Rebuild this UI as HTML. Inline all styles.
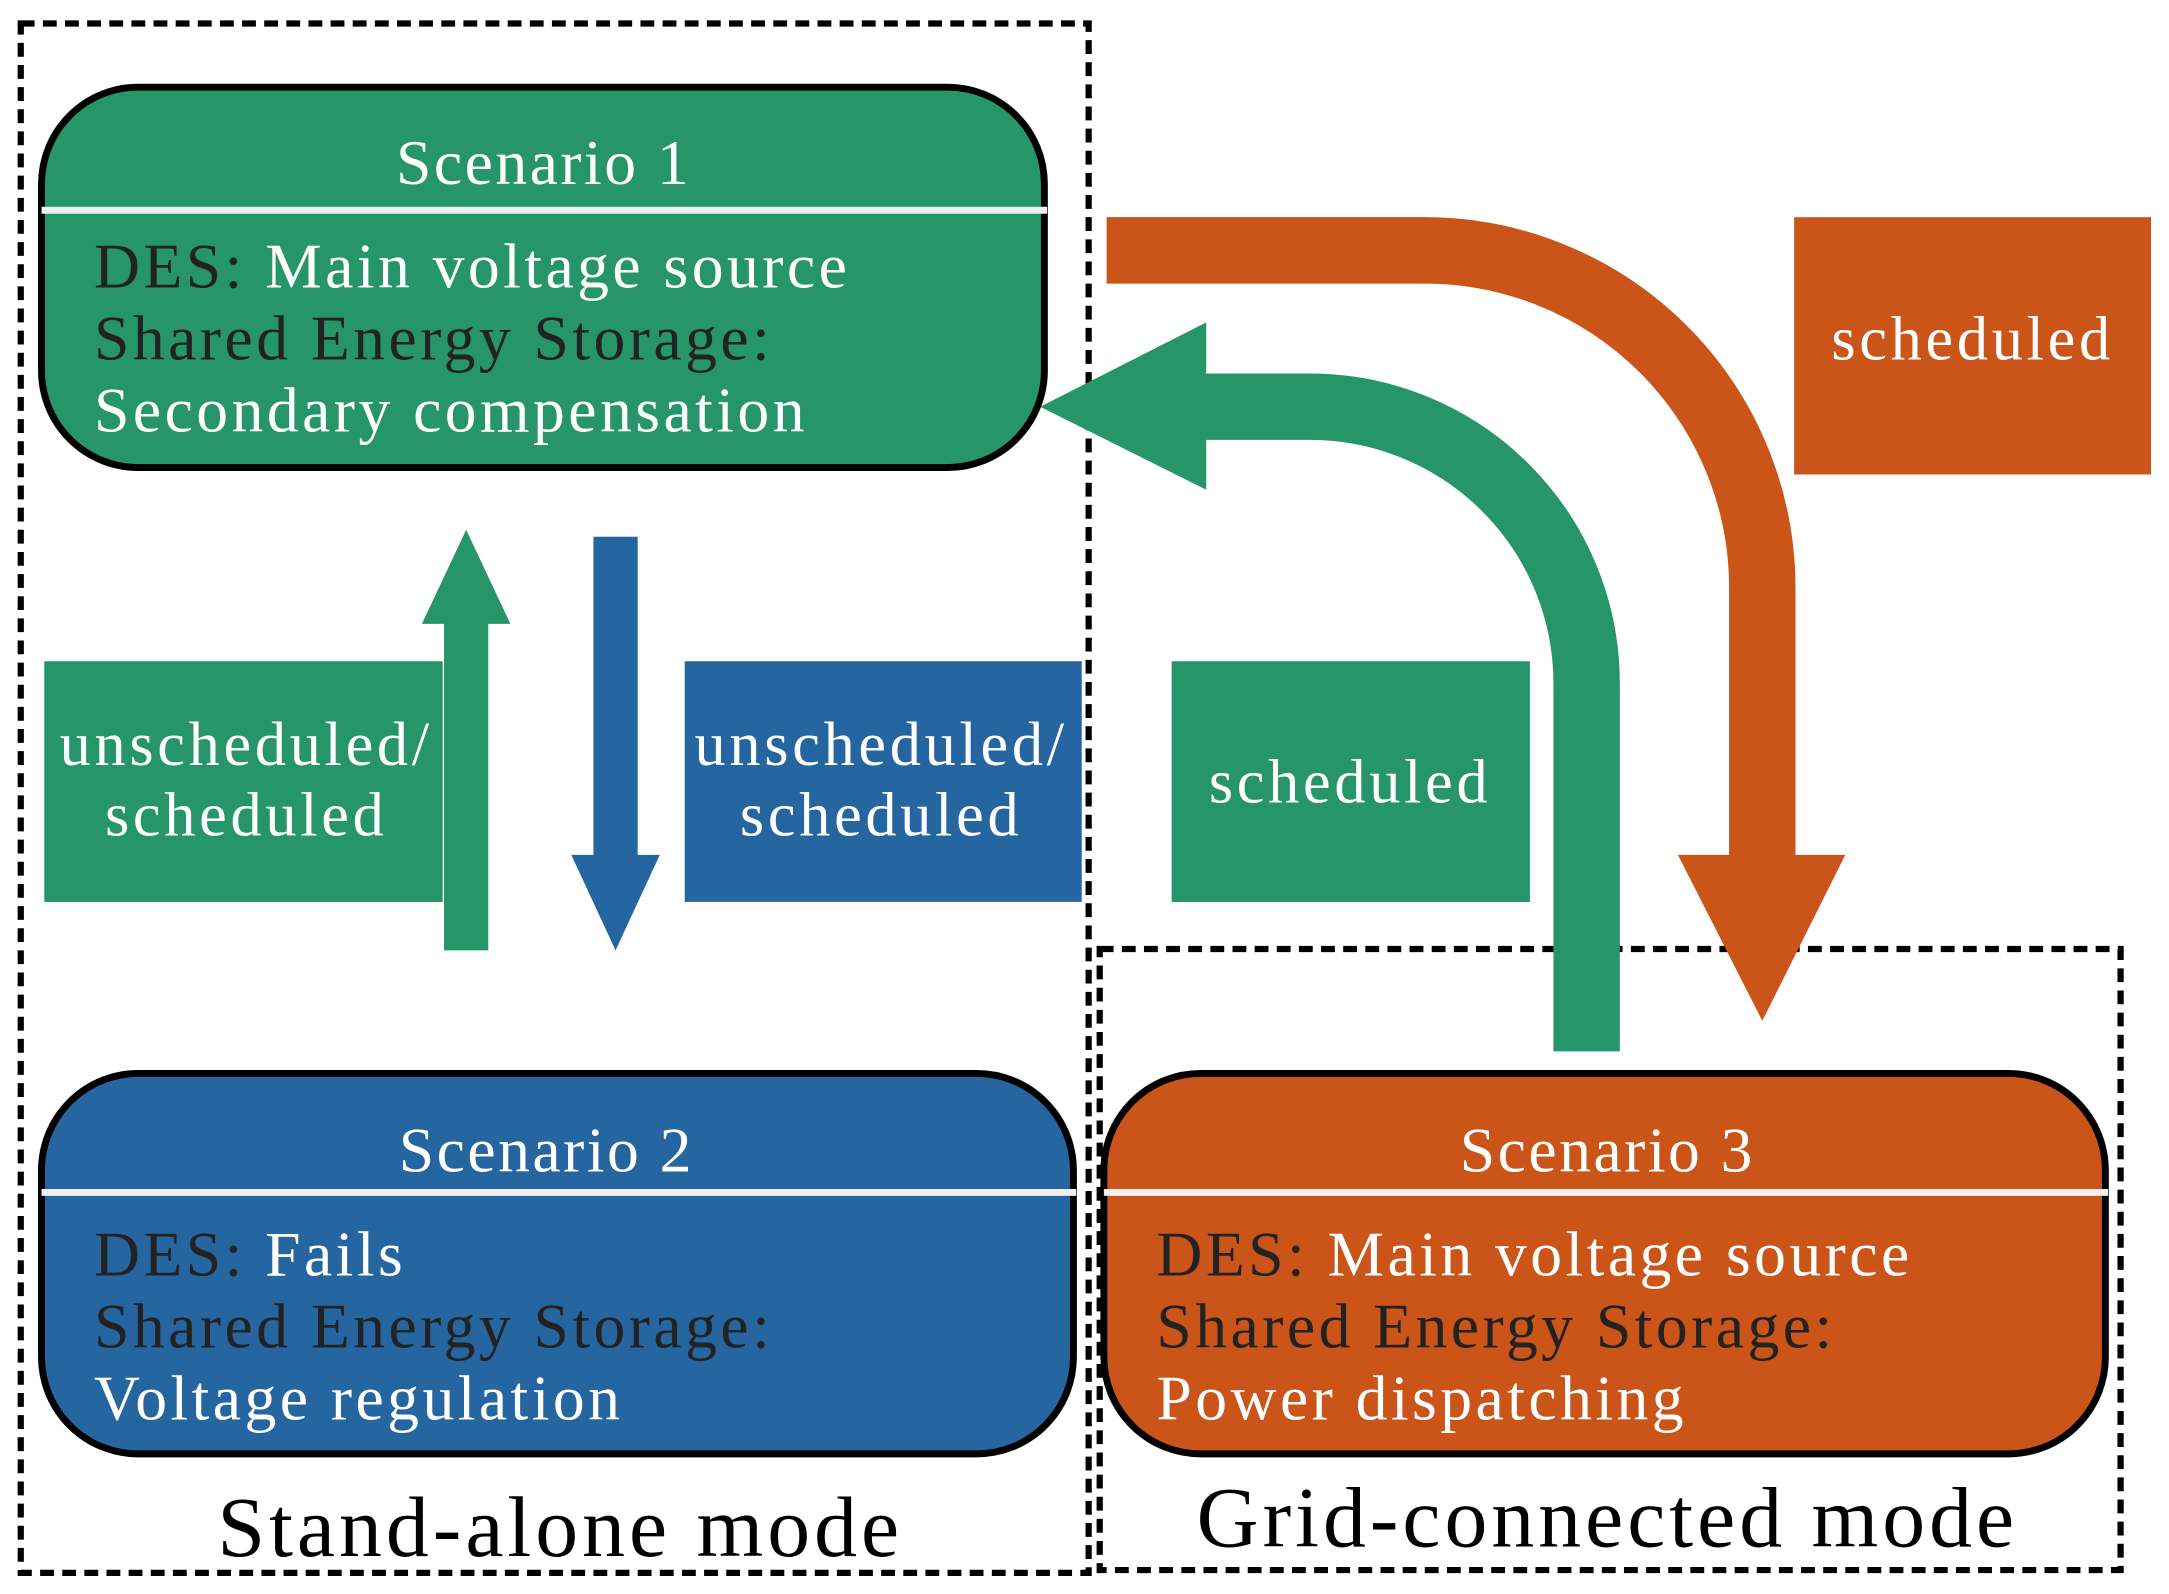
<!DOCTYPE html>
<html><head><meta charset="utf-8"><style>
html,body{margin:0;padding:0;background:#fff;}
svg{display:block;}
text{font-family:"Liberation Serif",serif;}
.b{letter-spacing:2.5px;}
.l{letter-spacing:2.7px;}
.t{letter-spacing:1.8px;}
.m{letter-spacing:2.9px;}
</style></head><body>
<svg width="2169" height="1594" viewBox="0 0 1568 1152.3" preserveAspectRatio="none" xmlns="http://www.w3.org/2000/svg">
<rect x="15" y="17" width="772" height="1120" fill="none" stroke="#000" stroke-width="4.5" stroke-dasharray="10,6"/>
<rect x="795" y="686" width="738" height="449" fill="none" stroke="#000" stroke-width="4.5" stroke-dasharray="10,6"/>

<path d="M800,181 L1030,181 A244,244 0 0 1 1274,425 L1274,620" fill="none" stroke="#cb5518" stroke-width="48"/>
<polygon points="1213,618 1334,618 1274,738" fill="#cb5518"/>
<path d="M1147,760 L1147,494 A200,200 0 0 0 947,294 L870,294" fill="none" stroke="#27956a" stroke-width="48"/>
<polygon points="872,233 872,354 752,294" fill="#27956a"/>

<rect x="321" y="448" width="32" height="239" fill="#27956a"/>
<polygon points="305,451 369,451 337,383" fill="#27956a"/>
<rect x="429" y="388" width="32" height="232" fill="#2566a0"/>
<polygon points="413,618 477,618 445,687" fill="#2566a0"/>

<rect x="32" y="478" width="288" height="174" fill="#27956a"/>
<text class="l" x="178" y="553" font-size="45" fill="#fff" text-anchor="middle">unscheduled/</text>
<text class="l" x="178" y="604" font-size="45" fill="#fff" text-anchor="middle">scheduled</text>
<rect x="495" y="478" width="287" height="174" fill="#2566a0"/>
<text class="l" x="637" y="553" font-size="45" fill="#fff" text-anchor="middle">unscheduled/</text>
<text class="l" x="637" y="604" font-size="45" fill="#fff" text-anchor="middle">scheduled</text>
<rect x="847" y="478" width="259" height="174" fill="#27956a"/>
<text class="l" x="976" y="580" font-size="45" fill="#fff" text-anchor="middle">scheduled</text>
<rect x="1297" y="157" width="258" height="186" fill="#cb5518"/>
<text class="l" x="1426" y="260" font-size="45" fill="#fff" text-anchor="middle">scheduled</text>

<rect x="30" y="63" width="725" height="275" rx="70" fill="#27956a" stroke="#000" stroke-width="5"/>
<line x1="30" y1="152" x2="757" y2="152" stroke="#f0f0f0" stroke-width="5"/>
<text class="t" x="393" y="133" font-size="46" fill="#fff" text-anchor="middle">Scenario 1</text>
<text class="b" x="68" y="208" font-size="46"><tspan fill="#222">DES:</tspan><tspan fill="#fff"> Main voltage source</tspan></text>
<text class="b" x="68" y="260" font-size="46" fill="#222">Shared Energy Storage:</text>
<text class="b" x="68" y="312" font-size="46" fill="#fff">Secondary compensation</text>

<rect x="30" y="776" width="746" height="275" rx="70" fill="#2566a0" stroke="#000" stroke-width="5"/>
<line x1="30" y1="862" x2="778" y2="862" stroke="#f0f0f0" stroke-width="5"/>
<text class="t" x="395" y="847" font-size="46" fill="#fff" text-anchor="middle">Scenario 2</text>
<text class="b" x="68" y="922" font-size="46"><tspan fill="#222">DES:</tspan><tspan fill="#fff"> Fails</tspan></text>
<text class="b" x="68" y="974" font-size="46" fill="#222">Shared Energy Storage:</text>
<text class="b" x="68" y="1026" font-size="46" fill="#fff">Voltage regulation</text>

<rect x="798" y="776" width="724" height="275" rx="70" fill="#cb5518" stroke="#000" stroke-width="5"/>
<line x1="798" y1="862" x2="1524" y2="862" stroke="#f0f0f0" stroke-width="5"/>
<text class="t" x="1162" y="847" font-size="46" fill="#fff" text-anchor="middle">Scenario 3</text>
<text class="b" x="836" y="922" font-size="46"><tspan fill="#222">DES:</tspan><tspan fill="#fff"> Main voltage source</tspan></text>
<text class="b" x="836" y="974" font-size="46" fill="#222">Shared Energy Storage:</text>
<text class="b" x="836" y="1026" font-size="46" fill="#fff">Power dispatching</text>

<text class="m" x="405" y="1125" font-size="62" fill="#000" text-anchor="middle">Stand-alone mode</text>
<text class="m" x="1162" y="1118" font-size="62" fill="#000" text-anchor="middle">Grid-connected mode</text>
</svg>
</body></html>
